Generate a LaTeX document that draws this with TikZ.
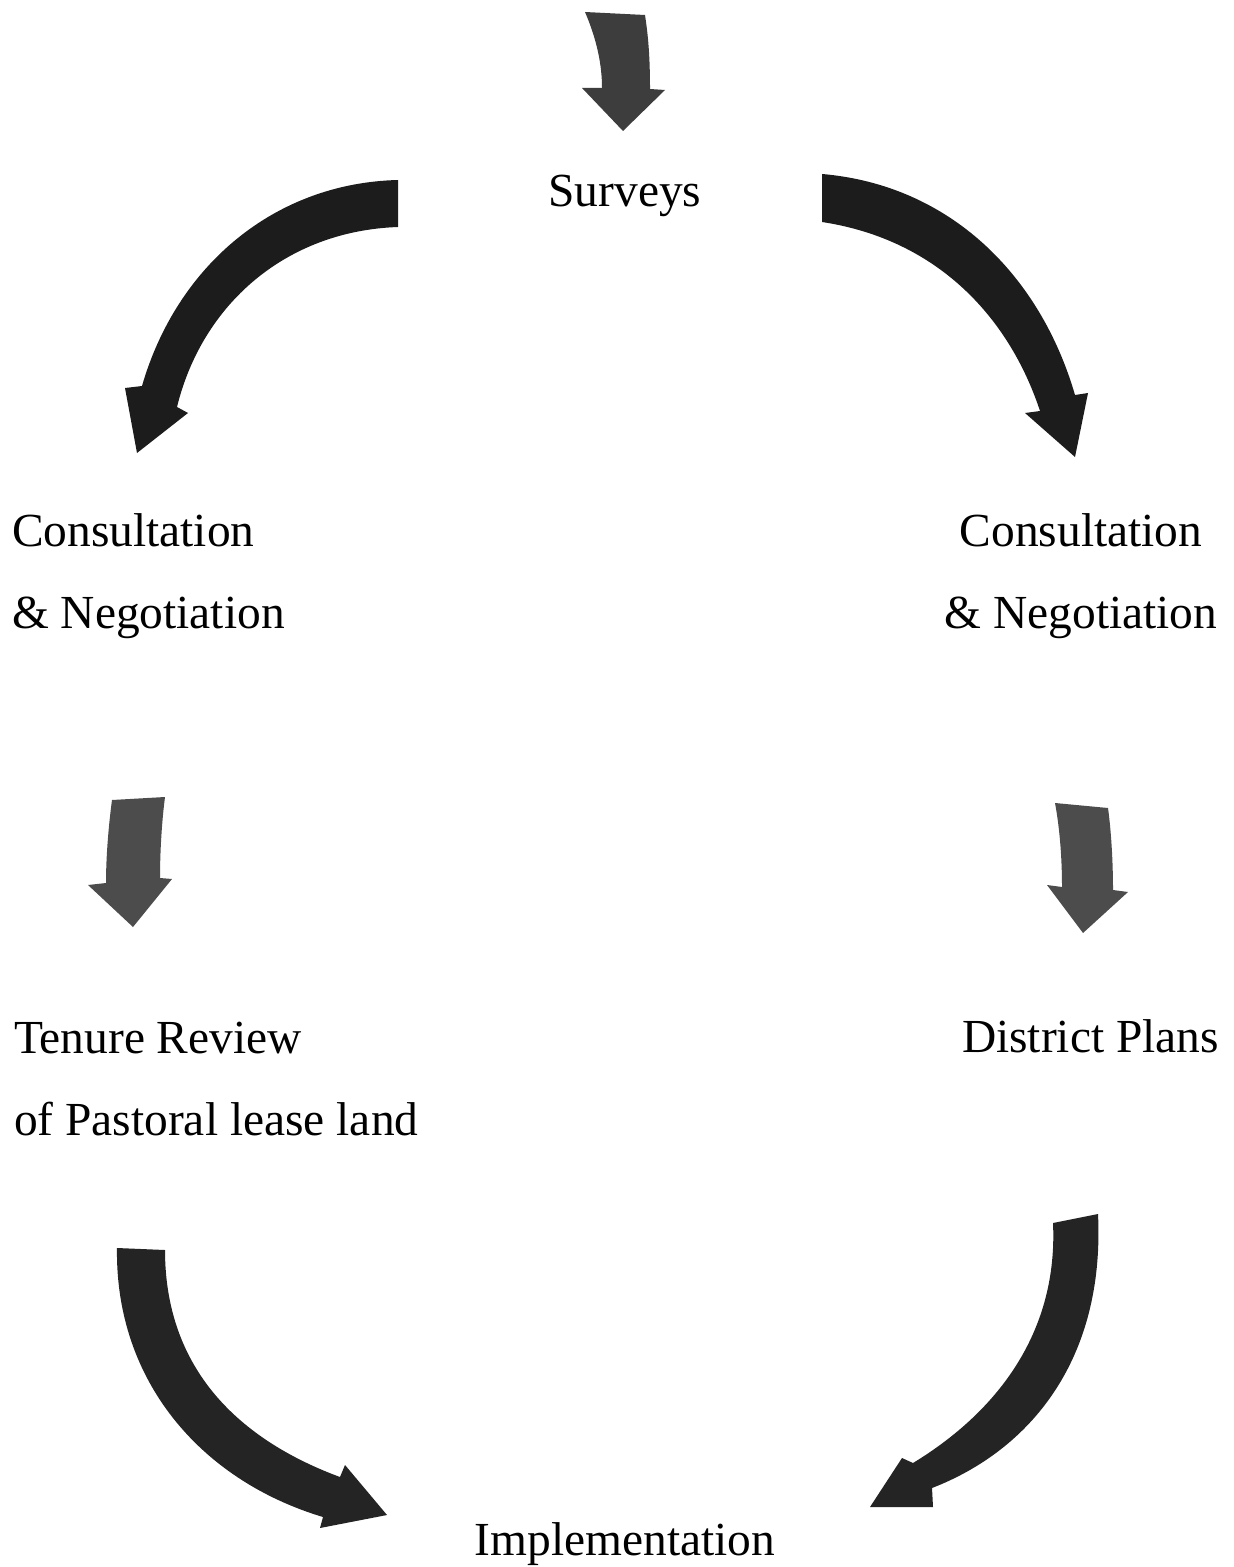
\documentclass[tikz,border=0pt]{standalone}
\usepackage{fontspec}
\setmainfont{Liberation Serif}
\begin{document}
\begin{tikzpicture}[x=0.02cm,y=-0.02cm,
  lbl/.style={inner sep=0pt,outer sep=0pt,font=\fontsize{27}{46.5}\selectfont},
  bigarrow/.style={fill=black!89,draw=none},
  bigarrowb/.style={fill=black!86,draw=none},
  smallarrow/.style={fill=black!70,draw=none},
  toparrow/.style={fill=black!76,draw=none}]
\useasboundingbox[fill=white] (0,0) rectangle (1233,1567);

% texts (multi-line nodes: base anchor is the baseline of the last line)
\node[lbl,anchor=base] (surveys) at (625,207) {Surveys};
\node[lbl,anchor=base west,align=left] (consL) at (12,628) {Consultation\\\& Negotiation};
\node[lbl,anchor=base,align=center] (consR) at (1081,628) {Consultation\\\& Negotiation};
\node[lbl,anchor=base west,align=left] (tenure) at (14,1135) {Tenure Review\\of Pastoral lease land};
\node[lbl,anchor=base east] (district) at (1219,1052) {District Plans};
\node[lbl,anchor=base] (impl) at (625,1555) {Implementation};

% top small arrow
\path[toparrow] (585,12) .. controls (597,40) and (602,65) .. (602,88) -- (582,88) -- (623,131) -- (665,90) -- (650,89) .. controls (650,55) and (648,35) .. (645,15) -- cycle;

% left big arrow
\path[bigarrow] (398,180) .. controls (275,183) and (177,265) .. (142,386) -- (125,388) -- (137,453) -- (188,413) -- (177,407) .. controls (202,305) and (285,231) .. (398,227) -- cycle;

% right big arrow
\path[bigarrow] (822,174) .. controls (950,185) and (1040,275) .. (1075,395) -- (1088,393) -- (1075,457) -- (1025,413) -- (1040,411) .. controls (1010,320) and (940,240) .. (822,222) -- cycle;

% left small arrow
\path[smallarrow] (112,800) .. controls (108,830) and (106,860) .. (106,883) -- (88,885) -- (133,927) -- (172,879) -- (160,878) .. controls (160,850) and (162,820) .. (165,797) -- cycle;

% right small arrow
\path[smallarrow] (1055,803) .. controls (1060,830) and (1062,860) .. (1062,887) -- (1047,885) -- (1083,933) -- (1128,892) -- (1113,890) .. controls (1113,860) and (1111,830) .. (1108,808) -- cycle;

% bottom-left big arrow
\path[bigarrowb] (117,1248) .. controls (115,1380) and (200,1480) .. (323,1517) -- (320,1528) -- (387,1515) -- (345,1465) -- (340,1477) .. controls (240,1440) and (165,1370) .. (165,1250) -- cycle;

% bottom-right big arrow
\path[bigarrowb] (1098,1214) .. controls (1105,1360) and (1030,1450) .. (932,1488) -- (933,1507) -- (870,1507) -- (902,1458) -- (913,1463) .. controls (1000,1410) and (1058,1330) .. (1053,1223) -- cycle;
\end{tikzpicture}
\end{document}
